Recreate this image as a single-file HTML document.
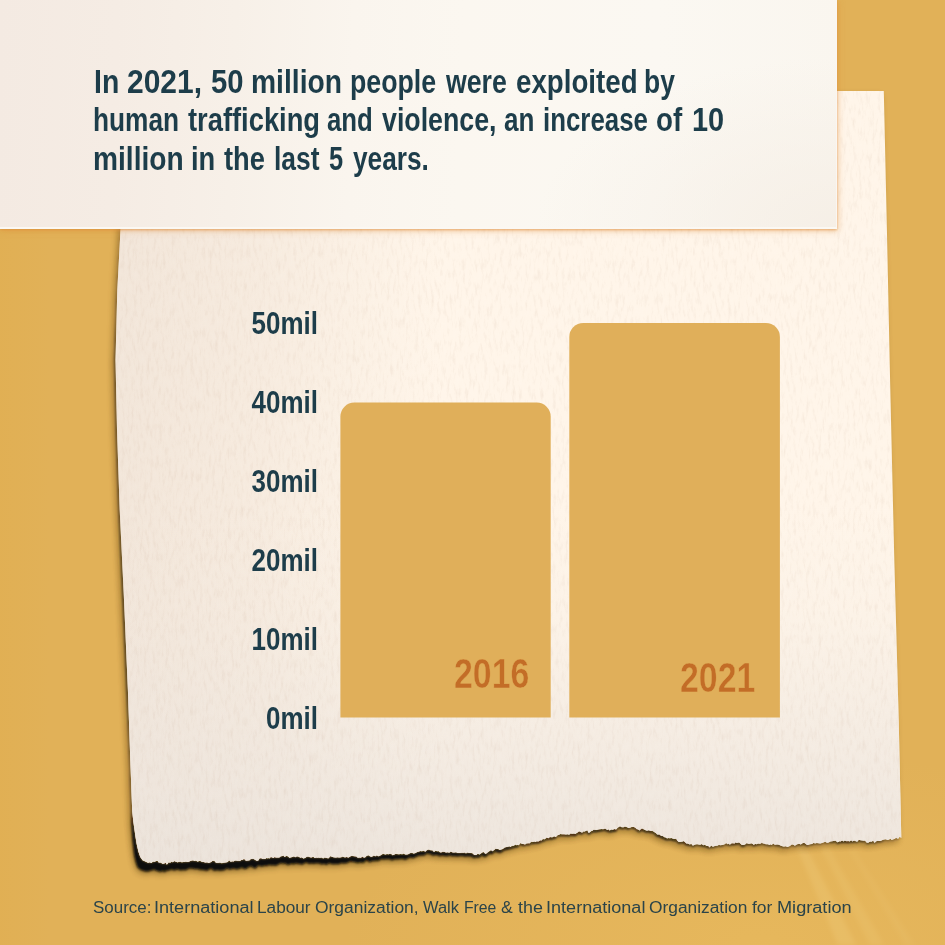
<!DOCTYPE html>
<html lang="en">
<head>
<meta charset="utf-8">
<title>Human trafficking 2016 vs 2021</title>
<style>
  html, body { margin: 0; padding: 0; }
  body {
    width: 945px; height: 945px; overflow: hidden; position: relative;
    background: #e2b156;
    font-family: "Liberation Sans", sans-serif;
  }
  .bg {
    position: absolute; left: 0; top: 0; width: 945px; height: 945px;
    background:
      linear-gradient(90deg, rgba(224,165,55,0.12) 0px, rgba(224,165,55,0) 50px),
      radial-gradient(ellipse 420px 200px at 760px 945px, rgba(240,195,100,0.35), rgba(240,195,100,0) 100%),
      #e1b158;
  }
  svg.art { position: absolute; left: 0; top: 0; }

  .card {
    position: absolute; left: 0; top: 0; width: 835.5px; height: 226.5px;
    border-right: 1.5px solid #faf6f1; border-bottom: 2px solid #fbf8f3;
    background:
      radial-gradient(ellipse 300px 170px at 100% 100%, rgba(245,238,229,0.85), rgba(245,238,229,0) 100%),
      linear-gradient(92deg, #f4eae2 0%, #f5ece4 14%, #f7f0e8 28%, #faf5ee 42%, #fbf7f0 55%, #fbf8f2 78%, #faf6ef 100%);
    box-shadow: 0 1px 2.5px rgba(222,140,55,0.62), 1px 2px 7px rgba(222,140,55,0.34);
  }
  .t {
    position: absolute; white-space: nowrap; transform-origin: 0 0;
    font-weight: bold; color: #1d3d4a; margin: 0;
  }
  .hl { position: absolute; left: 0; margin: 0; width: 837px; height: 40px; font-size: 34px; line-height: 40px; font-weight: bold; color: #1d3d4a; }
  .hl .w { position: absolute; top: 0; white-space: nowrap; transform-origin: 0 0; display: block; }
  .ax { font-size: 30.5px; line-height: 36px; transform-origin: 100% 0; text-align: right; right: 627px; transform: scaleX(0.851); }
  .yr { font-size: 42px; line-height: 46px; color: #c36d27; transform: scaleX(0.806); -webkit-text-stroke: 0.5px #e0af5a; }
  .src {
    position: absolute; left: 0; top: 895px; margin: 0; width: 945px; height: 24px;
    font-size: 17.3px; line-height: 24px; color: #2b4449; font-weight: normal;
  }
  .src .w { position: absolute; top: 0; white-space: nowrap; transform-origin: 0 0; display: block; }
</style>
</head>
<body>
<div class="bg"></div>

<svg class="art" width="945" height="945" viewBox="0 0 945 945">
  <defs>
    <filter id="blur3" x="-20%" y="-20%" width="140%" height="140%"><feGaussianBlur stdDeviation="2.2"/></filter>
    <filter id="blur1" x="-5%" y="-5%" width="110%" height="110%"><feGaussianBlur stdDeviation="1.0"/></filter>
    <filter id="blur6" x="-5%" y="-5%" width="110%" height="110%"><feGaussianBlur stdDeviation="3.2"/></filter>
    <filter id="grain" x="0" y="0" width="100%" height="100%" color-interpolation-filters="sRGB">
      <feTurbulence type="fractalNoise" baseFrequency="0.32 0.085" numOctaves="4" seed="7" result="n"/>
      <feColorMatrix in="n" type="matrix" values="0 0 0 0 0.62  0 0 0 0 0.44  0 0 0 0 0.32  2.4 0 0 0 -1.2" result="d"/>
      <feColorMatrix in="n" type="matrix" values="0 0 0 0 1  0 0 0 0 1  0 0 0 0 1  -2.4 0 0 0 1.2" result="l"/>
      <feMerge result="m"><feMergeNode in="d"/><feMergeNode in="l"/></feMerge>
      <feComposite in="m" in2="SourceGraphic" operator="in"/>
    </filter>
    <linearGradient id="shadeL" gradientUnits="userSpaceOnUse" x1="115" y1="0" x2="440" y2="0">
      <stop offset="0" stop-color="#eadccf" stop-opacity="0.62"/>
      <stop offset="0.45" stop-color="#eadccf" stop-opacity="0.40"/>
      <stop offset="1" stop-color="#ecdfd2" stop-opacity="0"/>
    </linearGradient>
    <linearGradient id="shadeB" gradientUnits="userSpaceOnUse" x1="0" y1="500" x2="0" y2="865">
      <stop offset="0" stop-color="#ece4dc" stop-opacity="0"/>
      <stop offset="0.3" stop-color="#ece4dc" stop-opacity="0.14"/>
      <stop offset="0.8" stop-color="#ece4dc" stop-opacity="0.72"/>
      <stop offset="1" stop-color="#eae2da" stop-opacity="0.88"/>
    </linearGradient>
    <path id="paperShape" d="M883.8,91.0 887.0,234.0 890.2,385.0 894.3,560.0 898.7,719.0 901.3,838.0 L901.3,838.0 900.9,837.4 899.5,836.8 898.5,838.5 897.2,838.6 896.2,837.8 894.3,839.0 893.4,839.2 891.7,840.1 890.2,838.5 889.3,839.5 887.5,839.9 885.9,839.3 884.0,839.6 882.5,840.1 880.5,841.1 879.1,841.1 877.6,840.8 875.8,841.4 874.7,842.9 873.7,841.2 872.5,841.0 871.5,841.8 870.6,841.5 869.3,841.9 868.2,842.8 866.5,842.6 865.0,840.5 864.2,840.7 862.2,840.6 860.5,840.3 858.8,839.8 857.2,841.7 855.2,841.1 854.0,840.5 852.5,841.6 851.1,840.2 849.5,841.6 848.3,841.0 846.7,841.3 844.7,840.4 843.6,841.4 842.1,840.6 840.5,841.4 839.3,841.2 838.5,842.1 837.1,842.3 835.9,840.7 835.0,840.7 833.4,841.0 832.1,841.2 830.4,841.5 828.6,842.4 827.0,842.8 825.2,841.7 823.3,842.4 822.0,842.9 820.2,843.5 818.5,843.3 816.8,843.0 814.9,843.5 813.8,842.8 812.0,843.9 810.0,844.2 808.6,844.7 807.1,844.9 805.8,844.1 804.3,842.7 802.4,843.3 800.8,844.5 799.0,843.7 797.2,844.2 796.3,844.7 794.9,845.7 793.9,845.0 792.9,844.6 791.6,844.6 789.9,845.9 788.6,846.4 787.6,847.0 785.7,846.2 784.1,846.5 783.3,846.4 781.8,846.0 780.5,845.4 779.0,844.8 777.7,844.6 776.5,844.4 774.8,844.8 773.4,843.6 771.5,845.1 770.6,844.2 769.7,845.1 767.8,844.2 765.8,844.3 764.0,843.4 762.9,843.4 761.9,842.5 760.9,843.5 759.4,843.7 758.0,843.5 756.6,844.2 755.7,844.1 754.8,844.0 753.9,845.0 752.9,844.0 751.3,843.2 749.9,843.8 748.1,843.7 746.7,843.0 745.8,843.9 743.8,844.9 741.9,845.1 740.3,843.4 739.3,842.6 738.5,842.4 736.8,843.1 735.6,842.3 734.6,843.4 732.9,843.3 731.6,843.2 729.8,844.7 728.8,843.5 727.7,844.3 726.1,843.0 725.0,844.0 724.0,844.4 722.1,844.9 720.1,845.3 719.1,844.7 717.2,845.7 716.0,845.8 714.8,845.9 712.9,846.7 711.2,845.5 709.5,847.4 708.4,846.0 706.6,846.0 705.0,844.8 703.2,845.2 701.8,844.1 700.2,844.8 698.6,844.6 697.6,844.2 696.6,844.3 695.2,844.6 693.9,845.3 692.6,845.6 691.3,843.7 689.9,844.5 688.8,844.0 687.7,843.4 686.3,843.6 685.4,842.6 683.7,840.9 682.8,841.6 681.2,841.7 680.0,842.0 678.8,841.9 677.2,840.5 676.1,838.6 675.1,839.0 674.3,839.0 672.5,838.4 671.6,838.1 669.7,838.2 668.1,837.9 667.1,838.6 665.9,837.6 664.5,837.2 662.7,836.1 660.9,835.8 659.6,834.6 658.6,834.4 657.2,834.4 656.1,833.3 654.2,831.9 652.3,830.7 651.0,831.0 649.5,830.5 648.6,830.2 647.0,830.7 645.6,830.2 644.1,829.4 642.4,828.6 641.1,828.8 639.7,830.5 637.7,829.2 636.9,829.2 635.4,827.7 633.9,827.1 632.5,827.1 631.5,826.9 630.0,827.7 628.5,828.1 626.6,827.1 624.8,826.5 623.7,827.3 621.8,827.2 620.0,826.2 618.8,826.9 617.6,827.7 616.1,829.6 614.3,828.9 612.9,829.8 611.3,829.6 609.6,830.4 608.5,829.3 607.1,830.1 606.0,829.0 605.1,828.6 603.1,829.3 601.8,829.0 599.8,829.2 598.2,829.4 596.4,830.0 594.7,829.8 593.3,829.8 592.3,830.9 591.3,831.0 589.6,832.6 588.4,832.7 587.4,830.3 585.6,830.9 584.8,831.4 583.0,831.5 582.2,832.7 580.8,832.1 579.0,831.3 577.6,832.6 576.3,833.3 575.4,834.0 574.1,833.5 572.3,833.7 570.4,833.5 569.2,834.8 567.5,834.2 566.0,834.6 564.1,834.3 562.1,834.3 560.2,834.1 559.2,834.7 557.5,835.2 555.9,836.9 554.1,836.2 552.5,837.2 551.4,837.3 549.9,836.9 548.5,838.3 546.6,837.4 544.8,839.3 542.9,839.1 541.5,840.6 540.2,840.3 538.3,841.6 536.8,841.2 535.4,842.1 534.5,841.5 532.8,842.0 530.9,841.8 530.0,843.3 528.1,843.3 526.3,843.6 525.1,844.6 523.4,844.1 521.8,843.8 520.4,842.9 518.8,845.3 517.6,844.7 516.4,845.3 515.4,844.5 513.8,845.8 512.4,845.7 511.6,845.9 510.6,847.0 509.2,846.3 508.1,846.8 506.5,847.0 504.6,847.6 502.8,849.0 501.2,849.6 499.7,849.9 498.3,848.9 496.8,849.1 495.9,848.5 494.9,849.2 493.9,850.3 492.1,851.2 491.2,850.1 489.9,850.8 488.9,851.4 488.1,852.0 486.4,853.5 485.2,853.8 483.7,852.1 482.1,852.6 481.2,853.3 479.4,854.6 478.5,854.1 477.6,853.8 476.3,855.0 474.3,854.9 472.5,853.2 471.3,852.9 469.9,853.0 468.4,852.7 467.1,852.6 466.0,853.6 464.9,852.6 463.6,852.8 462.5,852.8 461.4,852.7 459.5,853.0 457.8,853.0 456.0,852.3 454.2,852.5 452.8,852.5 451.8,852.1 450.7,851.6 449.2,852.8 447.9,852.3 446.0,852.4 444.1,851.7 442.4,851.7 441.1,852.6 440.0,852.2 438.4,851.1 437.2,851.3 435.4,850.7 434.0,852.0 432.4,850.2 430.6,850.2 429.6,849.7 428.5,849.6 426.9,850.0 425.7,851.4 424.9,851.5 423.8,850.8 421.9,851.3 420.4,851.0 419.0,851.6 417.3,852.0 416.3,852.5 414.9,853.2 413.4,853.6 412.5,852.9 410.8,852.7 409.9,853.2 408.1,854.3 406.8,854.5 405.3,854.6 403.6,853.5 402.3,854.3 400.7,854.1 398.8,854.3 396.8,854.1 395.3,854.1 394.4,854.6 392.8,855.2 391.3,853.9 390.1,853.7 388.5,854.2 387.0,853.9 385.2,854.5 383.4,853.8 382.1,854.3 380.3,855.6 378.4,856.2 376.8,855.3 375.6,856.2 373.7,855.4 371.9,856.8 370.3,856.4 368.6,855.3 366.7,855.7 365.0,857.5 363.6,857.4 362.7,856.5 360.7,857.8 359.5,857.5 357.8,857.8 356.5,856.6 354.9,856.3 354.1,856.3 352.1,855.7 350.5,856.2 348.6,857.5 347.8,857.6 346.9,856.8 345.9,857.2 344.4,857.2 342.8,856.5 341.2,857.3 339.2,857.5 337.4,857.3 336.1,857.6 335.2,857.4 333.7,857.3 332.5,857.1 331.4,856.6 330.6,856.0 329.2,857.6 328.1,858.6 327.3,858.0 326.2,857.7 324.3,857.6 323.2,858.5 321.7,857.5 319.9,857.7 318.4,857.4 317.3,857.7 316.4,857.5 314.8,858.1 313.7,856.9 312.6,857.1 311.1,857.6 309.3,857.0 308.2,856.6 306.5,856.8 305.5,857.8 303.5,858.4 302.7,857.9 301.7,857.3 300.4,857.8 298.9,856.8 297.0,856.3 295.1,857.3 294.1,856.2 292.1,857.1 290.4,857.4 289.4,857.8 288.3,856.6 286.5,855.8 284.6,856.9 283.7,855.5 282.6,856.1 280.8,856.3 279.3,857.5 277.9,857.6 276.0,857.6 274.6,857.1 273.4,857.9 271.9,857.2 270.8,857.1 269.3,858.5 268.4,857.9 267.5,858.2 266.3,857.9 265.1,859.0 263.4,858.8 262.3,859.1 261.2,858.0 259.3,858.4 258.3,860.4 256.8,860.7 254.9,859.7 253.7,858.7 252.6,858.7 250.7,859.0 249.6,860.2 247.8,860.5 245.9,860.7 244.7,859.2 243.7,859.0 242.4,860.1 241.4,859.7 239.9,860.9 238.9,860.7 237.2,860.8 236.2,860.6 234.9,860.4 233.4,861.4 232.4,861.3 230.6,861.7 229.7,860.5 228.8,860.5 227.7,861.9 226.8,862.3 225.1,862.6 223.1,862.8 221.9,863.3 221.0,862.7 219.9,862.6 218.2,862.7 216.6,862.7 215.7,862.6 214.4,860.7 212.5,860.8 211.1,861.9 209.2,862.8 208.2,863.1 207.4,862.3 205.5,862.6 203.6,861.9 202.3,862.0 200.5,861.0 199.2,861.1 197.5,861.5 196.6,861.0 195.5,860.4 194.4,861.1 193.2,860.2 191.6,860.5 189.8,861.2 187.8,862.1 185.8,861.4 184.6,862.1 183.3,862.1 181.7,862.3 180.3,861.4 178.7,861.9 177.3,862.3 175.5,861.6 174.2,861.0 172.8,862.2 172.0,861.6 170.9,861.9 169.9,863.0 169.0,861.8 167.5,864.0 166.7,864.4 165.7,862.6 164.2,863.6 162.6,863.7 160.7,862.5 158.7,862.5 157.8,861.0 156.2,861.0 154.4,861.8 153.5,861.6 152.4,862.1 151.4,863.0 149.7,862.3 148.1,862.8 146.5,861.9 L145.5,861.6 142.6,860.2 140.3,857.0 138.4,851.5 136.6,843.5 135.4,836.0 133.4,822.0 132.2,811.0 130.3,760.0 127.9,690.0 123.8,595.0 119.7,510.0 117.0,430.0 115.5,360.0 117.3,290.0 120.6,228.0 121.5,91.0 Z"/>
    <path id="tearShadow" d="M120.6,228.0 117.3,290.0 115.5,360.0 117.0,430.0 119.7,510.0 123.8,595.0 127.9,690.0 130.3,760.0 132.2,811.0 133.4,822.0 135.4,836.0 136.6,843.5 138.4,851.5 140.3,857.0 142.6,860.2 145.5,861.6 L146.5,861.9 148.1,862.8 149.7,862.3 151.4,863.0 152.4,862.1 153.5,861.6 154.4,861.8 156.2,861.0 157.8,861.0 158.7,862.5 160.7,862.5 162.6,863.7 164.2,863.6 165.7,862.6 166.7,864.4 167.5,864.0 169.0,861.8 169.9,863.0 170.9,861.9 172.0,861.6 172.8,862.2 174.2,861.0 175.5,861.6 177.3,862.3 178.7,861.9 180.3,861.4 181.7,862.3 183.3,862.1 184.6,862.1 185.8,861.4 187.8,862.1 189.8,861.2 191.6,860.5 193.2,860.2 194.4,861.1 195.5,860.4 196.6,861.0 197.5,861.5 199.2,861.1 200.5,861.0 202.3,862.0 203.6,861.9 205.5,862.6 207.4,862.3 208.2,863.1 209.2,862.8 211.1,861.9 212.5,860.8 214.4,860.7 215.7,862.6 216.6,862.7 218.2,862.7 219.9,862.6 221.0,862.7 221.9,863.3 223.1,862.8 225.1,862.6 226.8,862.3 227.7,861.9 228.8,860.5 229.7,860.5 230.6,861.7 232.4,861.3 233.4,861.4 234.9,860.4 236.2,860.6 237.2,860.8 238.9,860.7 239.9,860.9 241.4,859.7 242.4,860.1 243.7,859.0 244.7,859.2 245.9,860.7 247.8,860.5 249.6,860.2 250.7,859.0 252.6,858.7 253.7,858.7 254.9,859.7 256.8,860.7 258.3,860.4 259.3,858.4 261.2,858.0 262.3,859.1 263.4,858.8 265.1,859.0 266.3,857.9 267.5,858.2 268.4,857.9 269.3,858.5 270.8,857.1 271.9,857.2 273.4,857.9 274.6,857.1 276.0,857.6 277.9,857.6 279.3,857.5 280.8,856.3 282.6,856.1 283.7,855.5 284.6,856.9 286.5,855.8 288.3,856.6 289.4,857.8 290.4,857.4 292.1,857.1 294.1,856.2 295.1,857.3 297.0,856.3 298.9,856.8 300.4,857.8 301.7,857.3 302.7,857.9 303.5,858.4 305.5,857.8 306.5,856.8 308.2,856.6 309.3,857.0 311.1,857.6 312.6,857.1 313.7,856.9 314.8,858.1 316.4,857.5 317.3,857.7 318.4,857.4 319.9,857.7 321.7,857.5 323.2,858.5 324.3,857.6 326.2,857.7 327.3,858.0 328.1,858.6 329.2,857.6 330.6,856.0 331.4,856.6 332.5,857.1 333.7,857.3 335.2,857.4 336.1,857.6 337.4,857.3 339.2,857.5 341.2,857.3 342.8,856.5 344.4,857.2 345.9,857.2 346.9,856.8 347.8,857.6 348.6,857.5 350.5,856.2 352.1,855.7 354.1,856.3 354.9,856.3 356.5,856.6 357.8,857.8 359.5,857.5 360.7,857.8 362.7,856.5 363.6,857.4 365.0,857.5 366.7,855.7 368.6,855.3 370.3,856.4 371.9,856.8 373.7,855.4 375.6,856.2 376.8,855.3 378.4,856.2 380.3,855.6 382.1,854.3 383.4,853.8 385.2,854.5 387.0,853.9 388.5,854.2 390.1,853.7 391.3,853.9 392.8,855.2 394.4,854.6 395.3,854.1 396.8,854.1 398.8,854.3 400.7,854.1 402.3,854.3 403.6,853.5 405.3,854.6 406.8,854.5 408.1,854.3 409.9,853.2 410.8,852.7 412.5,852.9 413.4,853.6 414.9,853.2 416.3,852.5 417.3,852.0 419.0,851.6 420.4,851.0 421.9,851.3 423.8,850.8 424.9,851.5 425.7,851.4 426.9,850.0 428.5,849.6 429.6,849.7 430.6,850.2 432.4,850.2 434.0,852.0 435.4,850.7 437.2,851.3 438.4,851.1 440.0,852.2 441.1,852.6 442.4,851.7 444.1,851.7 446.0,852.4 447.9,852.3 449.2,852.8 450.7,851.6 451.8,852.1 452.8,852.5 454.2,852.5 456.0,852.3 457.8,853.0 459.5,853.0 461.4,852.7 462.5,852.8 463.6,852.8 464.9,852.6 466.0,853.6 467.1,852.6 468.4,852.7 469.9,853.0 471.3,852.9 472.5,853.2 474.3,854.9 476.3,855.0 477.6,853.8 478.5,854.1 479.4,854.6 481.2,853.3 482.1,852.6 483.7,852.1 485.2,853.8 486.4,853.5 488.1,852.0 488.9,851.4 489.9,850.8 491.2,850.1 492.1,851.2 493.9,850.3 494.9,849.2 495.9,848.5 496.8,849.1 498.3,848.9 499.7,849.9 501.2,849.6 502.8,849.0 504.6,847.6 506.5,847.0 508.1,846.8 509.2,846.3 510.6,847.0 511.6,845.9 512.4,845.7 513.8,845.8 515.4,844.5 516.4,845.3 517.6,844.7 518.8,845.3 520.4,842.9 521.8,843.8 523.4,844.1 525.1,844.6 526.3,843.6 528.1,843.3 530.0,843.3 530.9,841.8 532.8,842.0 534.5,841.5 535.4,842.1 536.8,841.2 538.3,841.6 540.2,840.3 541.5,840.6 542.9,839.1 544.8,839.3 546.6,837.4 548.5,838.3 549.9,836.9 551.4,837.3 552.5,837.2 554.1,836.2 555.9,836.9 557.5,835.2 559.2,834.7 560.2,834.1 562.1,834.3 564.1,834.3 566.0,834.6 567.5,834.2 569.2,834.8 570.4,833.5 572.3,833.7 574.1,833.5 575.4,834.0 576.3,833.3 577.6,832.6 579.0,831.3 580.8,832.1 582.2,832.7 583.0,831.5 584.8,831.4 585.6,830.9 587.4,830.3 588.4,832.7 589.6,832.6 591.3,831.0 592.3,830.9 593.3,829.8 594.7,829.8 596.4,830.0 598.2,829.4 599.8,829.2 601.8,829.0 603.1,829.3 605.1,828.6 606.0,829.0 607.1,830.1 608.5,829.3 609.6,830.4 611.3,829.6 612.9,829.8 614.3,828.9 616.1,829.6 617.6,827.7 618.8,826.9 620.0,826.2 621.8,827.2 623.7,827.3 624.8,826.5 626.6,827.1 628.5,828.1 630.0,827.7 631.5,826.9 632.5,827.1 633.9,827.1 635.4,827.7 636.9,829.2 637.7,829.2 639.7,830.5 641.1,828.8 642.4,828.6 644.1,829.4 645.6,830.2 647.0,830.7 648.6,830.2 649.5,830.5 651.0,831.0 652.3,830.7 654.2,831.9 656.1,833.3 657.2,834.4 658.6,834.4 659.6,834.6 660.9,835.8 662.7,836.1 664.5,837.2 665.9,837.6 667.1,838.6 668.1,837.9 669.7,838.2 671.6,838.1 672.5,838.4 674.3,839.0 675.1,839.0 676.1,838.6 677.2,840.5 678.8,841.9 680.0,842.0 681.2,841.7 682.8,841.6 683.7,840.9 685.4,842.6 686.3,843.6 687.7,843.4 688.8,844.0 689.9,844.5 691.3,843.7 692.6,845.6 693.9,845.3 695.2,844.6 696.6,844.3 697.6,844.2 698.6,844.6 700.2,844.8 701.8,844.1 703.2,845.2 705.0,844.8 706.6,846.0 708.4,846.0 709.5,847.4 711.2,845.5 712.9,846.7 714.8,845.9 716.0,845.8 717.2,845.7 719.1,844.7 720.1,845.3 722.1,844.9 724.0,844.4 725.0,844.0 726.1,843.0 727.7,844.3 728.8,843.5 729.8,844.7 731.6,843.2 732.9,843.3 734.6,843.4 735.6,842.3 736.8,843.1 738.5,842.4 739.3,842.6 740.3,843.4 741.9,845.1 743.8,844.9 745.8,843.9 746.7,843.0 748.1,843.7 749.9,843.8 751.3,843.2 752.9,844.0 753.9,845.0 754.8,844.0 755.7,844.1 756.6,844.2 758.0,843.5 759.4,843.7 760.9,843.5 761.9,842.5 762.9,843.4 764.0,843.4 765.8,844.3 767.8,844.2 769.7,845.1 770.6,844.2 771.5,845.1 773.4,843.6 774.8,844.8 776.5,844.4 777.7,844.6 779.0,844.8 780.5,845.4 781.8,846.0 783.3,846.4 784.1,846.5 785.7,846.2 787.6,847.0 788.6,846.4 789.9,845.9 791.6,844.6 792.9,844.6 793.9,845.0 794.9,845.7 796.3,844.7 797.2,844.2 799.0,843.7 800.8,844.5 802.4,843.3 804.3,842.7 805.8,844.1 807.1,844.9 808.6,844.7 810.0,844.2 812.0,843.9 813.8,842.8 814.9,843.5 816.8,843.0 818.5,843.3 820.2,843.5 822.0,842.9 823.3,842.4 825.2,841.7 827.0,842.8 828.6,842.4 830.4,841.5 832.1,841.2 833.4,841.0 835.0,840.7 835.9,840.7 837.1,842.3 838.5,842.1 839.3,841.2 840.5,841.4 842.1,840.6 843.6,841.4 844.7,840.4 846.7,841.3 848.3,841.0 849.5,841.6 851.1,840.2 852.5,841.6 854.0,840.5 855.2,841.1 857.2,841.7 858.8,839.8 860.5,840.3 862.2,840.6 864.2,840.7 865.0,840.5 866.5,842.6 868.2,842.8 869.3,841.9 870.6,841.5 871.5,841.8 872.5,841.0 873.7,841.2 874.7,842.9 875.8,841.4 877.6,840.8 879.1,841.1 880.5,841.1 882.5,840.1 884.0,839.6 885.9,839.3 887.5,839.9 889.3,839.5 890.2,838.5 891.7,840.1 893.4,839.2 894.3,839.0 896.2,837.8 897.2,838.6 898.5,838.5 899.5,836.8 900.9,837.4 901.3,838.0 L901.3,838.4 900.9,837.8 899.5,837.1 898.5,839.0 897.2,839.2 896.2,838.4 894.3,839.6 893.4,839.8 891.7,840.5 890.2,838.9 889.3,839.9 887.5,840.4 885.9,839.8 884.0,840.2 882.5,840.9 880.5,842.0 879.1,842.0 877.6,841.9 875.8,842.6 874.7,844.0 873.7,842.2 872.5,842.2 871.4,843.2 870.6,842.8 869.3,843.1 868.2,843.9 866.5,843.6 865.0,841.5 864.1,841.7 862.2,841.7 860.5,841.6 858.8,841.1 857.2,842.8 855.2,842.3 854.0,841.8 852.5,843.0 851.0,841.7 849.5,843.0 848.2,842.4 846.6,842.9 844.7,842.1 843.6,843.0 842.1,842.2 840.5,842.9 839.3,842.7 838.5,843.6 837.1,843.7 835.9,842.0 835.0,842.0 833.3,842.3 832.1,842.4 830.3,842.4 828.6,843.0 827.0,843.6 825.1,842.6 823.2,843.1 822.0,843.5 820.2,844.2 818.4,844.1 816.7,843.8 814.9,844.3 813.7,843.7 812.0,845.0 810.0,845.1 808.6,845.5 807.1,845.9 805.8,845.4 804.2,843.9 802.4,844.4 800.7,845.6 799.0,844.8 797.1,845.3 796.3,845.7 794.9,846.6 793.9,845.8 792.8,845.4 791.5,845.4 789.9,846.6 788.5,847.2 787.5,847.9 785.7,847.1 784.0,847.5 783.2,847.4 781.7,847.0 780.4,846.4 779.0,845.9 777.6,846.0 776.4,845.6 774.7,845.8 773.3,844.5 771.4,845.9 770.5,845.2 769.6,846.2 767.7,845.2 765.7,845.3 763.9,844.5 762.8,844.6 761.8,843.7 760.8,844.6 759.3,844.9 757.9,844.8 756.5,845.6 755.6,845.6 754.7,845.5 753.8,846.5 752.8,845.4 751.1,844.5 749.7,845.1 748.0,845.0 746.6,844.5 745.7,845.5 743.7,846.5 741.8,846.7 740.2,844.9 739.1,844.0 738.3,843.8 736.7,844.8 735.4,843.9 734.5,845.0 732.7,844.9 731.4,844.8 729.6,846.1 728.7,844.7 727.6,845.4 725.9,844.1 724.8,845.0 723.8,845.5 722.0,846.0 720.0,846.4 718.9,845.8 717.0,846.7 715.8,846.9 714.6,847.1 712.8,848.0 711.0,847.0 709.3,848.8 708.2,847.4 706.4,847.4 704.8,846.2 703.0,846.7 701.6,845.7 700.0,846.1 698.4,845.6 697.4,845.3 696.4,845.5 695.0,845.8 693.7,846.5 692.4,846.9 691.1,845.1 689.6,846.0 688.6,845.6 687.5,845.0 686.1,845.3 685.1,844.3 683.5,842.7 682.5,843.3 681.0,843.1 679.7,843.6 678.6,843.5 676.9,842.1 675.9,840.4 674.8,840.9 674.0,840.9 672.3,840.3 671.3,840.0 669.4,840.1 667.8,839.7 666.8,840.4 665.6,839.4 664.2,839.2 662.4,838.2 660.6,837.7 659.3,836.4 658.3,836.4 656.9,836.5 655.8,835.2 653.9,833.6 651.9,832.5 650.6,832.9 649.2,832.3 648.3,831.9 646.7,832.4 645.3,832.0 643.8,831.2 642.0,830.4 640.7,830.8 639.3,832.6 637.4,831.0 636.5,830.8 635.0,829.1 633.6,828.5 632.1,828.4 631.1,828.1 629.6,829.1 628.2,829.6 626.2,828.7 624.4,828.1 623.3,828.9 621.4,828.9 619.6,827.9 618.4,828.6 617.2,829.7 615.7,831.8 613.9,831.2 612.5,832.0 610.9,831.9 609.2,832.5 608.0,831.2 606.6,831.8 605.5,830.6 604.6,830.2 602.7,831.0 601.3,831.0 599.4,831.4 597.7,831.6 595.9,832.2 594.2,831.9 592.8,831.9 591.8,832.9 590.9,832.9 589.1,834.5 587.9,834.5 586.9,832.0 585.1,832.5 584.2,833.0 582.5,833.3 581.6,834.7 580.2,834.1 578.5,833.3 577.1,834.7 575.7,835.6 574.8,836.2 573.6,835.6 571.8,835.7 569.9,835.4 568.7,836.5 566.9,835.8 565.5,836.3 563.5,835.8 561.5,836.0 559.6,835.9 558.6,836.3 556.9,836.8 555.3,838.8 553.5,838.5 551.9,839.5 550.8,839.5 549.2,839.0 547.9,840.3 545.9,839.6 544.2,841.5 542.3,841.3 540.8,842.8 539.6,842.5 537.7,843.7 536.1,843.1 534.7,843.7 533.8,843.2 532.1,843.9 530.2,843.7 529.3,845.2 527.4,845.1 525.6,845.2 524.4,846.1 522.6,845.4 521.1,845.3 519.7,844.6 518.0,847.2 516.8,846.9 515.7,847.8 514.7,847.1 513.0,848.5 511.6,848.3 510.8,848.5 509.8,849.5 508.4,849.0 507.4,849.7 505.7,849.9 503.8,850.6 502.0,852.0 500.4,852.7 498.8,853.0 497.5,852.1 495.9,852.3 495.1,851.6 494.1,852.3 493.0,853.4 491.2,854.4 490.4,853.4 489.0,854.2 488.1,854.9 487.2,855.5 485.5,857.0 484.3,857.3 482.8,855.5 481.2,856.0 480.3,856.6 478.4,858.0 477.6,857.5 476.7,857.0 475.4,858.0 473.4,858.0 471.6,856.6 470.4,856.2 469.0,856.4 467.4,856.2 466.1,856.2 465.1,857.1 463.9,856.0 462.6,856.2 461.6,856.0 460.4,855.9 458.5,856.2 456.8,856.5 455.0,856.0 453.2,856.3 451.8,856.3 450.8,855.8 449.6,855.1 448.1,856.4 446.9,856.1 445.0,856.2 443.1,855.7 441.3,855.5 440.0,856.4 438.9,856.0 437.3,854.9 436.1,855.3 434.3,854.9 432.9,856.1 431.3,854.3 429.4,854.2 428.4,853.8 427.4,853.7 425.7,854.1 424.6,855.6 423.8,855.7 422.7,855.2 420.7,855.8 419.2,855.6 417.8,856.2 416.1,856.7 415.1,857.2 413.7,857.9 412.1,858.3 411.3,857.6 409.6,857.4 408.7,858.0 406.9,859.2 405.5,859.5 404.0,859.7 402.4,858.6 401.1,859.2 399.4,859.1 397.5,859.4 395.5,859.3 394.0,859.4 393.1,859.9 391.5,860.5 390.0,859.3 388.7,859.1 387.2,859.5 385.7,858.9 383.8,859.7 382.1,859.0 380.8,859.4 378.9,860.8 377.0,861.3 375.4,860.4 374.2,861.5 372.3,860.7 370.5,862.3 368.8,861.9 367.2,860.6 365.3,860.9 363.6,862.9 362.1,862.9 361.2,861.9 359.2,863.0 358.0,862.7 356.3,863.1 354.9,862.1 353.4,862.0 352.5,862.1 350.6,861.5 348.9,862.0 347.0,863.3 346.2,863.6 345.3,863.0 344.4,863.5 342.9,863.6 341.2,863.0 339.6,863.9 337.6,864.2 335.8,864.0 334.5,864.3 333.6,864.2 332.1,864.1 330.8,863.9 329.8,863.4 328.9,862.9 327.6,864.2 326.4,865.0 325.6,864.4 324.6,864.1 322.7,864.0 321.5,864.8 320.0,863.6 318.1,863.6 316.7,863.3 315.6,863.6 314.7,863.4 313.0,864.0 312.0,863.2 310.8,863.6 309.3,864.0 307.5,863.1 306.4,862.7 304.7,862.9 303.6,864.1 301.7,864.8 300.8,864.3 299.9,863.7 298.6,864.3 297.1,863.4 295.2,863.4 293.2,864.7 292.2,863.5 290.2,864.3 288.5,864.7 287.5,865.3 286.4,863.9 284.6,863.2 282.7,864.2 281.7,862.8 280.7,863.6 278.8,864.0 277.3,865.3 276.0,865.6 274.0,865.5 272.6,865.0 271.4,865.7 269.9,864.9 268.8,864.7 267.2,866.2 266.3,865.5 265.4,865.9 264.3,865.5 263.1,866.4 261.3,866.2 260.2,866.5 259.2,865.5 257.2,866.2 256.2,868.2 254.6,868.5 252.8,867.5 251.5,866.4 250.5,866.5 248.6,866.9 247.4,868.3 245.6,869.0 243.7,869.1 242.5,867.7 241.5,867.5 240.2,868.7 239.2,868.4 237.6,869.6 236.7,869.2 235.0,869.1 233.9,868.8 232.6,868.4 231.1,869.4 230.1,869.3 228.3,869.5 227.5,868.3 226.5,868.4 225.4,869.8 224.5,870.1 222.8,870.4 220.8,870.6 219.6,871.0 218.7,870.3 217.5,870.2 215.8,870.5 214.2,870.7 213.3,870.6 212.0,868.7 210.0,868.8 208.7,870.0 206.8,870.8 205.7,871.1 204.9,870.0 203.1,870.3 201.1,869.8 199.8,870.0 198.0,869.0 196.7,869.0 195.0,869.3 194.1,868.9 192.9,868.3 191.9,869.1 190.7,868.3 189.0,868.6 187.2,869.5 185.2,870.5 183.2,869.8 182.0,870.4 180.7,870.2 179.1,870.2 177.7,869.3 176.1,869.8 174.6,870.4 172.8,869.9 171.5,869.3 170.1,870.5 169.3,870.0 168.2,870.5 167.1,871.5 166.3,870.2 164.8,872.2 164.0,872.4 163.0,870.6 161.4,871.7 159.8,872.0 157.9,871.0 155.9,871.1 155.0,869.7 153.4,869.8 151.6,870.7 150.7,870.5 149.5,871.0 148.6,871.8 146.8,871.2 145.2,871.7 143.6,870.8 L141.0,870.3 137.5,867.5 135.6,862.0 134.0,854.5 132.8,843.5 132.1,836.0 131.3,822.0 131.4,811.0 129.7,760.0 126.7,690.0 122.6,595.0 118.8,510.0 116.1,430.0 114.6,360.0 116.9,290.0 120.6,228.0 Z"/>
  </defs>

  <!-- faint crease streaks in the backdrop -->
  <g filter="url(#blur3)" fill="#ffe9a8">
    <path opacity="0.13" d="M796,846 L806,846 L856,945 L838,945 Z"/>
    <path opacity="0.09" d="M820,846 L828,846 L884,945 L870,945 Z"/>
    <path opacity="0.05" d="M848,848 L853,848 L915,945 L905,945 Z"/>
  </g>
  <!-- soft shadow -->
  <use href="#paperShape" fill="#5a3a08" opacity="0.42" filter="url(#blur6)" transform="translate(-3,4)"/>
  <use href="#tearShadow" filter="url(#blur6)" fill="#3a2605" opacity="0.45" transform="translate(-1,2.5)"/>
  <!-- hard black shadow under torn edge -->
  <use href="#tearShadow" filter="url(#blur1)" fill="#0b0907"/>
  <!-- paper -->
  <use href="#paperShape" fill="#fff5e9"/>
  <use href="#paperShape" fill="url(#shadeL)"/>
  <use href="#paperShape" fill="url(#shadeB)"/>
  <use href="#paperShape" fill="#000" filter="url(#grain)" opacity="0.075"/>

  <!-- bars -->
  <path fill="#e0af5a" d="M340.4,717.6 V416.6 a14,14 0 0 1 14,-14 H536.7 a14,14 0 0 1 14,14 V717.6 Z"/>
  <path fill="#e0af5a" d="M569.3,717.6 V336.9 a14,14 0 0 1 14,-14 H765.9 a14,14 0 0 1 14,14 V717.6 Z"/>
</svg>

<div class="card"></div>

<p class="hl" style="top:61.0px">
  <span class="w" style="left:93.75px;transform:scaleX(0.8338)">In</span>
  <span class="w" style="left:127.32px;transform:scaleX(0.8816)">2021,</span>
  <span class="w" style="left:211.34px;transform:scaleX(0.8604)">50</span>
  <span class="w" style="left:251.26px;transform:scaleX(0.8305)">million</span>
  <span class="w" style="left:349.87px;transform:scaleX(0.7858)">people</span>
  <span class="w" style="left:446.00px;transform:scaleX(0.7847)">were</span>
  <span class="w" style="left:515.91px;transform:scaleX(0.8149)">exploited</span>
  <span class="w" style="left:644.18px;transform:scaleX(0.7784)">by</span>
</p>
<p class="hl" style="top:99.2px">
  <span class="w" style="left:93.40px;transform:scaleX(0.7720)">human</span>
  <span class="w" style="left:187.63px;transform:scaleX(0.8035)">trafficking</span>
  <span class="w" style="left:327.34px;transform:scaleX(0.7587)">and</span>
  <span class="w" style="left:381.94px;transform:scaleX(0.7867)">violence,</span>
  <span class="w" style="left:504.33px;transform:scaleX(0.7664)">an</span>
  <span class="w" style="left:542.63px;transform:scaleX(0.7600)">increase</span>
  <span class="w" style="left:656.41px;transform:scaleX(0.8152)">of</span>
  <span class="w" style="left:691.60px;transform:scaleX(0.8505)">10</span>
</p>
<p class="hl" style="top:137.8px">
  <span class="w" style="left:93.27px;transform:scaleX(0.8276)">million</span>
  <span class="w" style="left:191.03px;transform:scaleX(0.8026)">in</span>
  <span class="w" style="left:223.53px;transform:scaleX(0.8027)">the</span>
  <span class="w" style="left:273.99px;transform:scaleX(0.7760)">last</span>
  <span class="w" style="left:329.35px;transform:scaleX(0.7471)">5</span>
  <span class="w" style="left:352.74px;transform:scaleX(0.7714)">years.</span>
</p>

<div class="t ax" id="a50" style="top:305.2px">50mil</div>
<div class="t ax" id="a40" style="top:384.3px">40mil</div>
<div class="t ax" id="a30" style="top:463.3px">30mil</div>
<div class="t ax" id="a20" style="top:542.4px">20mil</div>
<div class="t ax" id="a10" style="top:621.4px">10mil</div>
<div class="t ax" id="a0"  style="top:700.4px">0mil</div>

<div class="t yr" id="y16" style="left:454.1px; top:650.6px">2016</div>
<div class="t yr" id="y21" style="left:680.2px; top:655.0px">2021</div>

<p class="src" id="src">
  <span class="w" style="left:93.47px;transform:scaleX(0.9799)">Source:</span>
  <span class="w" style="left:154.43px;transform:scaleX(1.0465)">International</span>
  <span class="w" style="left:257.01px;transform:scaleX(0.9962)">Labour</span>
  <span class="w" style="left:315.24px;transform:scaleX(1.0080)">Organization,</span>
  <span class="w" style="left:423.10px;transform:scaleX(0.9536)">Walk</span>
  <span class="w" style="left:464.03px;transform:scaleX(0.9113)">Free</span>
  <span class="w" style="left:501.49px;transform:scaleX(1.0233)">&amp;</span>
  <span class="w" style="left:517.74px;transform:scaleX(1.0348)">the</span>
  <span class="w" style="left:545.83px;transform:scaleX(1.0454)">International</span>
  <span class="w" style="left:648.85px;transform:scaleX(1.0036)">Organization</span>
  <span class="w" style="left:751.85px;transform:scaleX(1.0076)">for</span>
  <span class="w" style="left:776.83px;transform:scaleX(1.0496)">Migration</span>
</p>
</body>
</html>
